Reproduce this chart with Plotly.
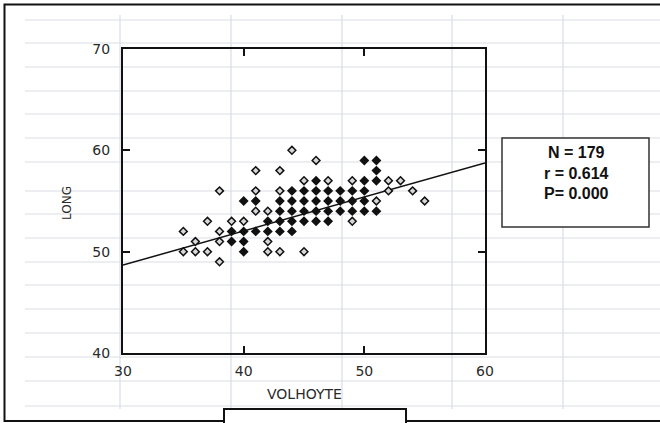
import plotly.graph_objects as go

# ---------------- data ----------------
# VOLHOYTE (x), LONG (y) and number of cases plotted at each position
volhoyte = [44,
            46, 50, 51,
            41, 43, 51,
            45, 46, 47, 49, 50, 51, 52, 53,
            38, 41, 43, 44, 45, 46, 47, 48, 49, 50, 52, 54,
            40, 41, 43, 44, 45, 46, 47, 48, 49, 50, 51, 55,
            41, 42, 43, 44, 45, 46, 47, 48, 49, 50, 51,
            37, 39, 40, 42, 43, 44, 45, 46, 47, 49,
            35, 38, 39, 40, 41, 42, 43, 44,
            36, 38, 39, 40, 42,
            35, 36, 37, 40, 42, 43, 45,
            38]
long_vals = [60,
             59, 59, 59,
             58, 58, 58,
             57, 57, 57, 57, 57, 57, 57, 57,
             56, 56, 56, 56, 56, 56, 56, 56, 56, 56, 56, 56,
             55, 55, 55, 55, 55, 55, 55, 55, 55, 55, 55, 55,
             54, 54, 54, 54, 54, 54, 54, 54, 54, 54, 54,
             53, 53, 53, 53, 53, 53, 53, 53, 53, 53,
             52, 52, 52, 52, 52, 52, 52, 52,
             51, 51, 51, 51, 51,
             50, 50, 50, 50, 50, 50, 50,
             49]
counts = [1,
          1, 2, 2,
          1, 1, 2,
          1, 3, 1, 1, 2, 2, 1, 1,
          1, 1, 1, 2, 4, 4, 5, 2, 2, 2, 1, 1,
          2, 3, 3, 5, 5, 5, 5, 4, 3, 2, 1, 1,
          1, 1, 4, 5, 5, 5, 5, 2, 2, 2, 2,
          1, 1, 1, 3, 4, 4, 2, 4, 2, 1,
          1, 1, 2, 4, 4, 3, 2, 2,
          1, 1, 2, 2, 1,
          1, 1, 1, 2, 1, 1, 1,
          1]

fit_intercept = 38.6
fit_slope = 0.336
fit_x = [30, 60]

x_ticks = [30, 40, 50, 60]
y_ticks = [40, 50, 60, 70]
stats_lines = ["N = 179", "r = 0.614", "P= 0.000"]

# ---------------- layout constants (pixels) ----------------
W, H = 660, 423
L, R, T, B = 123, 485, 49, 353
PW, PH = R - L, B - T


def fx(px):
    return (px - L) / PW


def fy(py):
    return (B - py) / PH


fig = go.Figure()

fig.add_trace(go.Scatter(
    x=fit_x,
    y=[fit_intercept + fit_slope * v for v in fit_x],
    mode="lines",
    line=dict(color="#111111", width=1.5),
    hoverinfo="skip",
    showlegend=False,
))

fig.add_trace(go.Scatter(
    x=volhoyte,
    y=long_vals,
    mode="markers",
    marker=dict(
        symbol="diamond",
        size=6,
        color=["#111111" if c > 1 else "#d8d8d8" for c in counts],
        line=dict(color="#111111", width=1.5),
    ),
    customdata=counts,
    hovertemplate="VOLHOYTE %{x}<br>LONG %{y}<br>n=%{customdata}<extra></extra>",
    showlegend=False,
))

shapes = []
grid_color = "#d9dde6"
h_lines = [20, 43, 67, 91, 114, 138, 162, 191, 214, 238, 262, 285, 309, 333, 357, 381, 406]
v_lines = [120, 231, 342, 452, 563]
for py in h_lines:
    shapes.append(dict(type="line", xref="paper", yref="paper",
                       x0=fx(25), x1=fx(660), y0=fy(py), y1=fy(py),
                       line=dict(color=grid_color, width=1.2), layer="below"))
for px in v_lines:
    shapes.append(dict(type="line", xref="paper", yref="paper",
                       x0=fx(px), x1=fx(px), y0=fy(15), y1=fy(409),
                       line=dict(color=grid_color, width=1.2), layer="below"))

# outer sheet frame with bottom tab
pts = [(662, 4.5), (4.5, 4.5), (4.5, 421), (224, 421), (224, 409), (406, 409), (406, 421), (662, 421)]
path = "M " + " L ".join(f"{fx(a):.5f},{fy(b):.5f}" for a, b in pts)
shapes.append(dict(type="path", xref="paper", yref="paper", path=path,
                   line=dict(color="#111111", width=2), layer="above"))
shapes.append(dict(type="line", xref="paper", yref="paper",
                   x0=fx(224), x1=fx(224), y0=fy(409), y1=fy(425),
                   line=dict(color="#111111", width=2), layer="above"))
shapes.append(dict(type="line", xref="paper", yref="paper",
                   x0=fx(406), x1=fx(406), y0=fy(409), y1=fy(425),
                   line=dict(color="#111111", width=2), layer="above"))

# statistics box
shapes.append(dict(type="rect", xref="paper", yref="paper",
                   x0=fx(502), x1=fx(649), y0=fy(138), y1=fy(227),
                   fillcolor="white", line=dict(color="#333333", width=1.5),
                   layer="above"))

annotations = []
for i, txt in enumerate(stats_lines):
    annotations.append(dict(xref="paper", yref="paper", x=fx(576), y=fy(152.5 + 20.5 * i),
                            text=f"<b>{txt}</b>", showarrow=False,
                            xanchor="center", yanchor="middle",
                            font=dict(family="Liberation Sans, Arial", size=16, color="#111111")))
annotations.append(dict(xref="paper", yref="paper", x=fx(304), y=fy(394),
                        text="VOLHOYTE", showarrow=False, xanchor="center", yanchor="middle",
                        font=dict(family="DejaVu Sans", size=14, color="#2a2a2a")))
annotations.append(dict(xref="paper", yref="paper", x=fx(67), y=fy(203),
                        text="LONG", showarrow=False, textangle=-90,
                        xanchor="center", yanchor="middle",
                        font=dict(family="DejaVu Sans", size=12, color="#2a2a2a")))

axis_common = dict(
    showgrid=False, zeroline=False,
    showline=True, linecolor="#111111", linewidth=2, mirror="ticks",
    ticks="inside", ticklen=7, tickwidth=1.5, tickcolor="#111111",
    tickfont=dict(family="DejaVu Sans", size=14, color="#2a2a2a"),
)

fig.update_layout(
    width=W, height=H,
    margin=dict(l=L, r=W - R, t=T, b=H - B, pad=0),
    paper_bgcolor="white",
    plot_bgcolor="rgba(0,0,0,0)",
    xaxis=dict(range=[30, 60], tickvals=x_ticks, ticktext=[str(v) for v in x_ticks],
               ticklabelstandoff=4, **axis_common),
    yaxis=dict(range=[40, 70], tickvals=y_ticks, ticktext=[str(v) for v in y_ticks],
               ticklabelstandoff=8, **axis_common),
    shapes=shapes,
    annotations=annotations,
)

fig.write_html("out.html",
               config={"displayModeBar": False},
               post_script="document.body.style.margin='0';document.body.style.overflow='hidden';")
